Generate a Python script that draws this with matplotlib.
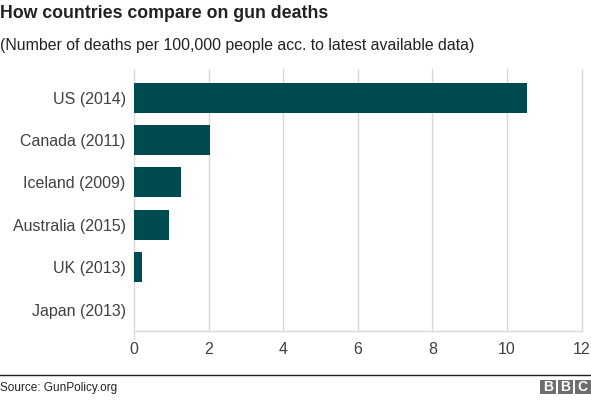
import matplotlib.pyplot as plt
from matplotlib.patches import Rectangle
from matplotlib.lines import Line2D

plt.rcParams['font.family'] = ['Liberation Sans', 'DejaVu Sans']

# data
countries = ["US (2014)", "Canada (2011)", "Iceland (2009)",
             "Australia (2015)", "UK (2013)", "Japan (2013)"]
deaths_per_100k = [10.54, 2.05, 1.26, 0.94, 0.22, 0.01]
xticks = [0, 2, 4, 6, 8, 10, 12]

bar_color = "#004b4f"
text_color = "#404040"

W, H = 591, 403
fig = plt.figure(figsize=(W / 100, H / 100), dpi=100)
ax = fig.add_axes([134 / W, 1 - 331 / H, (581.7 - 134) / W, (331 - 69) / H])

ypos = list(range(len(countries)))
ax.barh(ypos, deaths_per_100k, height=0.71, color=bar_color, zorder=3)
ax.set_ylim(len(countries) - 0.493, -0.677)
ax.set_xlim(0, 12)

ax.set_yticks(ypos)
ax.set_yticklabels(countries)
ax.set_xticks(xticks)
ax.set_xticklabels([str(t) for t in xticks])
ax.tick_params(axis='y', length=0, pad=6, labelsize=11.5, labelcolor=text_color)
ax.tick_params(axis='x', length=0, pad=8, labelsize=11.5, labelcolor=text_color)

ax.grid(axis='x', color="#d9d9d9", linewidth=1, zorder=0)
for gl in ax.get_xgridlines():
    gl.set_clip_on(False)
for s in ["top", "right", "left"]:
    ax.spines[s].set_visible(False)
ax.spines["bottom"].set_color("#d9d9d9")
ax.spines["bottom"].set_linewidth(1)
# small tick below the zero line
ax.plot([0, 0], [len(countries) - 0.493, len(countries) - 0.3], color="#d9d9d9",
        linewidth=1, clip_on=False, zorder=0)

# titles
fig.text(0.0, 1 - 17.5 / H, "How countries compare on gun deaths", fontsize=12.8,
         fontweight='bold', color="#222222", ha='left', va='baseline')
fig.text(0.0, 1 - 50 / H, "(Number of deaths per 100,000 people acc. to latest available data)",
         fontsize=11.45, color="#222222", ha='left', va='baseline')

# footer
fig.add_artist(Line2D([0, 1], [1 - 375 / H, 1 - 375 / H], color="#222222", linewidth=1))
fig.text(0.0, 1 - 391.5 / H, "Source: GunPolicy.org", fontsize=8.5, color="#222222",
         ha='left', va='baseline')
for i, letter in enumerate("BBC"):
    x0 = 540 + i * 17.5
    fig.add_artist(Rectangle((x0 / W, 1 - 394 / H), 15.5 / W, 14.5 / H,
                             transform=fig.transFigure, facecolor="#6e6e6e", edgecolor='none'))
    fig.text((x0 + 7.75) / W, 1 - 387.3 / H, letter, fontsize=10, fontweight='bold',
             color='white', ha='center', va='center')

fig.savefig("out.png", dpi=100)
